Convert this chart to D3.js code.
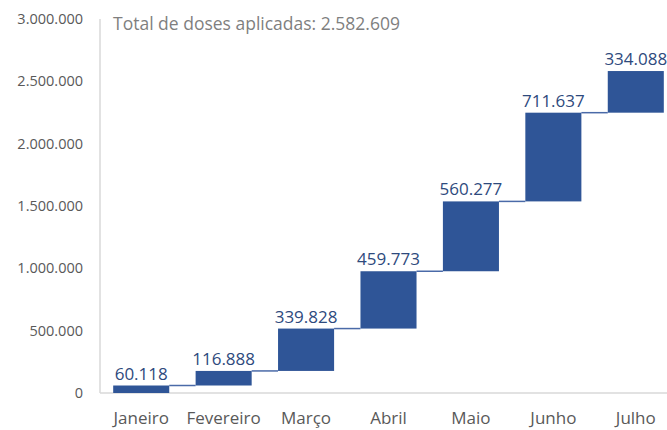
<!DOCTYPE html>
<html>
<head>
<meta charset="utf-8">
<script src="https://cdn.jsdelivr.net/npm/d3@7"></script>
<style>
  body { margin: 0; background: #fff; overflow: hidden; }
  text { font-family: 'Open Sans', 'Noto Sans', sans-serif; }
</style>
</head>
<body>
<script>
const width = 667;
const height = 430;

const months = ['Janeiro', 'Fevereiro', 'Março', 'Abril', 'Maio', 'Junho', 'Julho'];
const doses = [60118, 116888, 339828, 459773, 560277, 711637, 334088];
const yTicks = [0, 500000, 1000000, 1500000, 2000000, 2500000, 3000000];

const ptBR = d3.formatLocale({ decimal: ',', thousands: '.', grouping: [3], currency: ['R$', ''] });
const fmt = ptBR.format(',d');

// running totals for the waterfall
let acc = 0;
const steps = doses.map((v, i) => {
  const start = acc;
  acc += v;
  return { month: months[i], value: v, start, end: acc };
});
const total = acc;

const svg = d3
  .select('body')
  .append('svg')
  .attr('width', width)
  .attr('height', height);

const x = d3.scaleBand()
  .domain(months)
  .range([100, 677])
  .paddingInner(0.32)
  .paddingOuter(0.16);

const y = d3.scaleLinear()
  .domain([0, 3000000])
  .range([393, 19]);

// axis lines
svg.append('line')
  .attr('x1', 100).attr('x2', 100)
  .attr('y1', 19).attr('y2', y(0))
  .attr('stroke', '#d9d9d9')
  .attr('stroke-width', 1.5);

svg.append('line')
  .attr('x1', 100).attr('x2', width)
  .attr('y1', y(0)).attr('y2', y(0))
  .attr('stroke', '#d9d9d9')
  .attr('stroke-width', 1.5);

// y tick labels
svg.selectAll('.ytick')
  .data(yTicks)
  .enter()
  .append('text')
  .attr('class', 'ytick')
  .attr('x', 83)
  .attr('y', (d) => y(d) + 5)
  .attr('text-anchor', 'end')
  .attr('font-size', 14.5)
  .attr('fill', '#595959')
  .text((d) => fmt(d));

// connectors
svg.selectAll('.conn')
  .data(steps.slice(0, -1))
  .enter()
  .append('line')
  .attr('class', 'conn')
  .attr('x1', (d) => x(d.month) + x.bandwidth())
  .attr('x2', (d, i) => x(months[i + 1]))
  .attr('y1', (d) => y(d.end))
  .attr('y2', (d) => y(d.end))
  .attr('stroke', '#4a6aa8')
  .attr('stroke-width', 1.5);

// bars
svg.selectAll('.bar')
  .data(steps)
  .enter()
  .append('rect')
  .attr('class', 'bar')
  .attr('x', (d) => x(d.month))
  .attr('width', x.bandwidth())
  .attr('y', (d) => y(d.end))
  .attr('height', (d) => y(d.start) - y(d.end))
  .attr('fill', '#2f5597');

// value labels
svg.selectAll('.val')
  .data(steps)
  .enter()
  .append('text')
  .attr('class', 'val')
  .attr('x', (d) => x(d.month) + x.bandwidth() / 2)
  .attr('y', (d) => y(d.end) - 6)
  .attr('text-anchor', 'middle')
  .attr('font-size', 17)
  .attr('fill', '#2e4a7d')
  .text((d) => fmt(d.value));

// month labels
svg.selectAll('.month')
  .data(months)
  .enter()
  .append('text')
  .attr('class', 'month')
  .attr('x', (d) => x(d) + x.bandwidth() / 2)
  .attr('y', 424)
  .attr('text-anchor', 'middle')
  .attr('font-size', 17)
  .attr('fill', '#595959')
  .text((d) => d);

// title
svg.append('text')
  .attr('x', 113)
  .attr('y', 30)
  .attr('font-size', 17.5)
  .attr('fill', '#7f7f7f')
  .text(`Total de doses aplicadas: ${fmt(total)}`);
</script>
</body>
</html>
